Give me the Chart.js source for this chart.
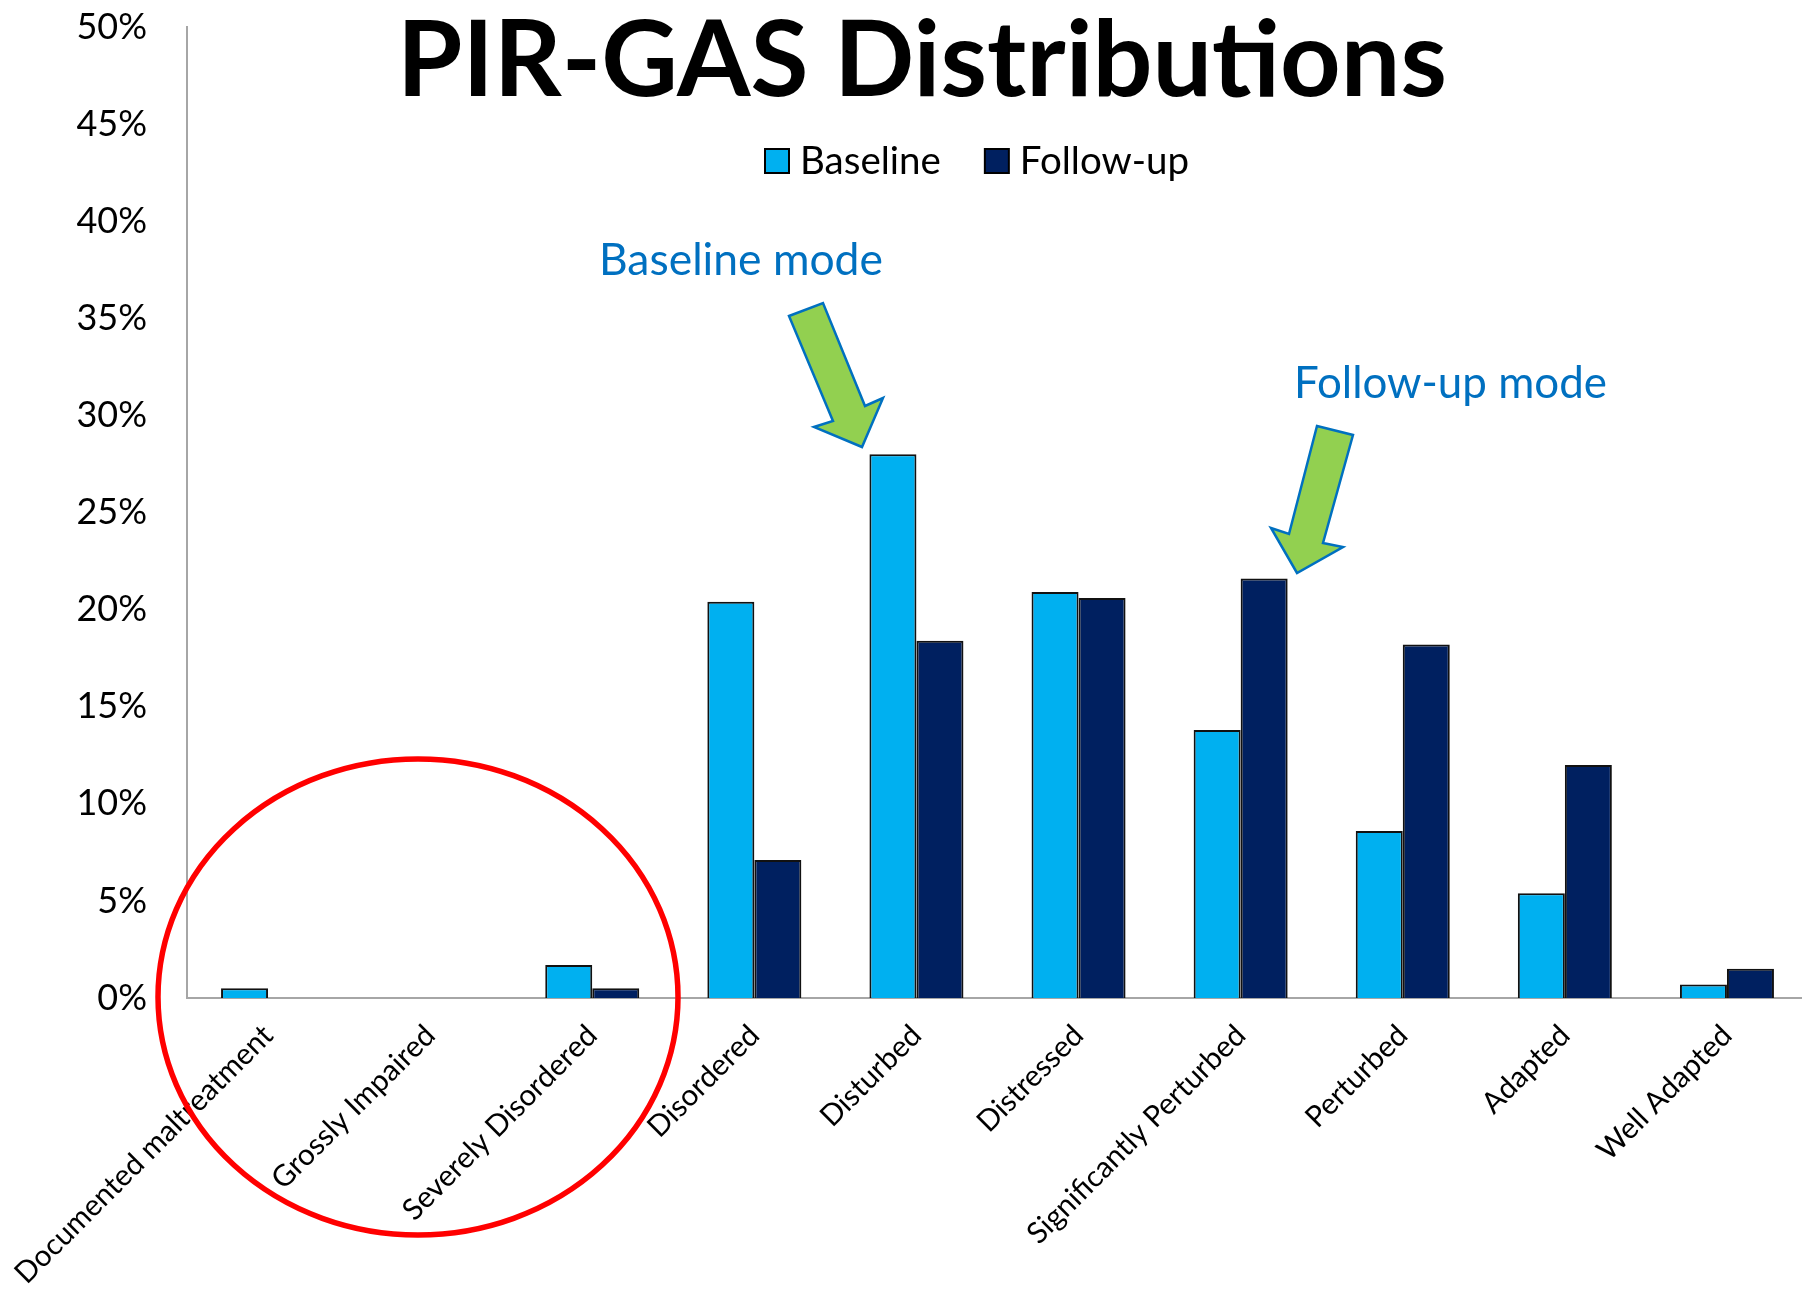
<!DOCTYPE html>
<html>
<head>
<meta charset="utf-8">
<script src="https://cdn.jsdelivr.net/npm/chart.js@4.4.0/dist/chart.umd.min.js"></script>
<style>
html,body{margin:0;padding:0;background:#fff;overflow:hidden;width:1802px;height:1289px}
#wrap{position:absolute;left:0;top:0;width:1808px;height:1289px}
</style>
</head>
<body>
<div id="wrap"><canvas id="c" width="1808" height="1289"></canvas></div>
<script>
// ---- data ----
const categories = ['Documented maltreatment', 'Grossly Impaired', 'Severely Disordered', 'Disordered', 'Disturbed', 'Distressed', 'Significantly Perturbed', 'Perturbed', 'Adapted', 'Well Adapted'];
const baselineValues = [0.5, 0, 1.7, 20.4, 28.0, 20.9, 13.8, 8.6, 5.4, 0.7];
const followUpValues = [0, 0, 0.5, 7.1, 18.4, 20.6, 21.6, 18.2, 12.0, 1.5];
const seriesNames = ['Baseline', 'Follow-up'];
const yTickValues = [0, 5, 10, 15, 20, 25, 30, 35, 40, 45, 50];
const titleText = 'PIR-GAS Distributions';
const noteTexts = ['Baseline mode', 'Follow-up mode'];

const FONT = 'Lato';

function fitSize(ctx, text, weight, targetWidth) {
  ctx.font = weight + ' 100px ' + FONT;
  return 100 * targetWidth / ctx.measureText(text).width;
}
function drawArrow(ctx, pts) {
  ctx.beginPath();
  ctx.moveTo(pts[0][0], pts[0][1]);
  for (let i = 1; i < pts.length; i++) ctx.lineTo(pts[i][0], pts[i][1]);
  ctx.closePath();
  ctx.fillStyle = '#92D050';
  ctx.fill();
  ctx.lineWidth = 2.5;
  ctx.strokeStyle = '#0070C0';
  ctx.lineJoin = 'miter';
  ctx.stroke();
}
function noPadding(scale) {
  scale.paddingTop = 0;
  scale.paddingBottom = 0;
  scale.paddingLeft = 0;
  scale.paddingRight = 0;
}

const decorPlugin = {
  id: 'decor',
  afterDraw(chart) {
    const ctx = chart.ctx;
    ctx.save();
    ctx.textAlign = 'left';
    ctx.textBaseline = 'alphabetic';
    // title
    let s = fitSize(ctx, titleText, 'bold', 1050);
    ctx.font = 'bold ' + s + 'px ' + FONT;
    ctx.fillStyle = '#000';
    ctx.fillText(titleText, 397, 96);
    // legend (from the datasets)
    ctx.font = 'normal 38.5px ' + FONT;
    ctx.textBaseline = 'middle';
    let lx = 765;
    const ly = 161;
    chart.data.datasets.forEach((ds) => {
      ctx.fillStyle = ds.backgroundColor;
      ctx.fillRect(lx, ly - 12, 24, 24);
      ctx.lineWidth = 2;
      ctx.strokeStyle = '#000';
      ctx.strokeRect(lx, ly - 12, 24, 24);
      ctx.fillStyle = '#000';
      ctx.fillText(ds.label, lx + 35, ly + 1);
      lx += 35 + ctx.measureText(ds.label).width + 44;
    });
    ctx.textBaseline = 'alphabetic';
    // notes
    ctx.fillStyle = '#0070C0';
    s = fitSize(ctx, noteTexts[0], 'normal', 284);
    ctx.font = 'normal ' + s + 'px ' + FONT;
    ctx.fillText(noteTexts[0], 599, 275);
    s = fitSize(ctx, noteTexts[1], 'normal', 313);
    ctx.font = 'normal ' + s + 'px ' + FONT;
    ctx.fillText(noteTexts[1], 1294, 398);
    // arrows
    drawArrow(ctx, [[789,316],[823,303],[865,406],[883,398],[862,447],[814,427],[833,421]]);
    drawArrow(ctx, [[1317,426],[1353,435],[1323,543],[1343,547],[1297,573],[1271,528],[1289,534]]);
    // red ellipse
    ctx.beginPath();
    ctx.ellipse(418, 997, 260, 238, 0, 0, Math.PI * 2);
    ctx.lineWidth = 5.5;
    ctx.strokeStyle = '#FF0000';
    ctx.stroke();
    ctx.restore();
  }
};

new Chart(document.getElementById('c'), {
  type: 'bar',
  data: {
    labels: categories,
    datasets: [
      { label: seriesNames[0], data: baselineValues, backgroundColor: '#00B0F0', borderColor: '#111', borderWidth: 2 },
      { label: seriesNames[1], data: followUpValues, backgroundColor: '#002060', borderColor: '#111', borderWidth: 2 }
    ]
  },
  options: {
    responsive: false,
    devicePixelRatio: 1,
    animation: false,
    layout: { autoPadding: false, padding: { top: 27, left: 0, right: 0, bottom: 0 } },
    datasets: { bar: { categoryPercentage: 0.58, barPercentage: 1.0 } },
    plugins: {
      tooltip: { enabled: false },
      title: { display: false },
      legend: { display: false }
    },
    scales: {
      x: {
        type: 'category',
        offset: true,
        grid: { display: false, drawTicks: false },
        border: { display: true, color: '#A6A6A6', width: 2 },
        ticks: {
          autoSkip: false,
          minRotation: 45,
          maxRotation: 45,
          padding: 20,
          color: '#000',
          font: { family: FONT, size: 29.6 }
        },
        afterFit(scale) { scale.height = 291; noPadding(scale); }
      },
      y: {
        min: 0,
        max: 50,
        afterBuildTicks(scale) { scale.ticks = yTickValues.map(v => ({ value: v })); },
        grid: { display: false, drawTicks: false },
        border: { display: true, color: '#A6A6A6', width: 2 },
        ticks: {
          padding: 40,
          color: '#000',
          font: { family: FONT, size: 36 },
          callback: (v) => v + '%'
        },
        afterFit(scale) { scale.width = 187; noPadding(scale); }
      }
    }
  },
  plugins: [decorPlugin]
});
</script>
</body>
</html>
